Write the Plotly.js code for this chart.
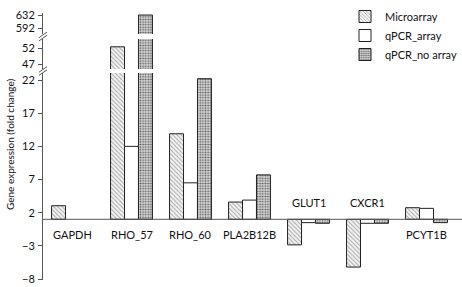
<!DOCTYPE html>
<html>
<head>
<meta charset="utf-8">
<script src="https://cdn.plot.ly/plotly-3.0.1.min.js"></script>
<style>html,body{margin:0;padding:0;background:#fff}#chart{width:462px;height:287px}</style>
</head>
<body>
<div id="chart"></div>
<script>
// ---- data ----
var categories = ['GAPDH','RHO_57','RHO_60','PLA2B12B','GLUT1','CXCR1','PCYT1B'];
var microarray = [3.05, 52.5, 13.9, 3.6, -2.85, -6.2, 2.75];
var qpcrArray = [null, 12, 6.5, 3.9, 0.5, 0.4, 2.65];
var qpcrNoArray = [null, 632, 22.2, 7.7, 0.4, 0.4, 0.5];
var seriesNames = ['Microarray', 'qPCR_array', 'qPCR_no array'];
var BASE = 1;
var ticksLow = [-8, -3, 2, 7, 12, 17, 22];
var ticksMid = [47, 52];
var ticksTop = [592, 632];

// ---- layout helpers (pixel -> paper, margins are zero) ----
var W = 462, H = 287;
function px(x){ return x / W; }
function py(y){ return (H - y) / H; }

var font = 'Lato, Open Sans, sans-serif';
var styles = [
  {color:'#f6f6f6', line:{color:'#222', width:1}, pattern:{shape:'\\', fgcolor:'#a8a8a8', bgcolor:'#f6f6f6', size:3, solidity:0.35}},
  {color:'#ffffff', line:{color:'#222', width:1}},
  {color:'#c8c8c8', line:{color:'#222', width:1}, pattern:{shape:'.', fgcolor:'#5a5a5a', bgcolor:'#dcdcdc', size:2.6, solidity:0.4}}
];
var series = [microarray, qpcrArray, qpcrNoArray];
var axes = ['y', 'y2', 'y3'];
var traces = [];
axes.forEach(function(ax, ai){
  series.forEach(function(vals, si){
    traces.push({
      type:'bar', x:categories,
      y: vals.map(function(v){ return v === null ? null : v - BASE; }),
      base: BASE, name: seriesNames[si], yaxis: ax, xaxis:'x',
      marker: styles[si], showlegend: ai === 0, legendgroup: 's' + si,
      hoverinfo:'skip'
    });
  });
});

var annotations = categories.map(function(c, i){
  var above = microarray[i] < BASE;
  return {x:c, y:BASE, xref:'x', yref:'y', text:c, showarrow:false,
    yshift: above ? 17 : -15, font:{family:font, size:11, color:'#111'}};
});
annotations.push({xref:'paper', yref:'paper', x:px(10), y:py(145), xanchor:'center', yanchor:'middle',
  text:'Gene expression (fold change)', textangle:-90, showarrow:false, font:{family:font, size:10, color:'#111'}});

var shapes = [
  {type:'line', xref:'paper', yref:'y', x0:px(43), x1:1, y0:BASE, y1:BASE, line:{color:'#555', width:1}}
];
[36.5, 71].forEach(function(yc){
  shapes.push({type:'rect', xref:'paper', yref:'paper', x0:px(40), x1:px(46), y0:py(yc+1.2), y1:py(yc-1.2), fillcolor:'#fff', line:{width:0}});
  [-1.6, 1.6].forEach(function(o){
    shapes.push({type:'line', xref:'paper', yref:'paper', x0:px(39), x1:px(47), y0:py(yc + 2.8 + o), y1:py(yc - 2.8 + o),
      line:{color:'#555', width:1}});
  });
});

function yax(range, dom, ticks){
  return {domain:dom, range:range, tickvals:ticks, ticktext:ticks.map(function(t){return t<0? '\u2212'+(-t) : String(t);}),
    showline:true, linecolor:'#555', linewidth:1, ticks:'outside', ticklen:4, tickcolor:'#555',
    showgrid:false, zeroline:false, anchor:'x', fixedrange:true, ticklabelstandoff:1,
    tickfont:{family:font, size:11, color:'#111'}};
}

var layout = {
  width:W, height:H, margin:{l:0, r:0, t:0, b:0, autoexpand:false},
  paper_bgcolor:'#fff', plot_bgcolor:'rgba(0,0,0,0)',
  barmode:'group', bargap:0.29, bargroupgap:0,
  xaxis:{domain:[px(43), px(456)], range:[-0.5, 6.5], showticklabels:false, showline:false, showgrid:false, zeroline:false, ticks:'', fixedrange:true},
  yaxis: yax([-8.15, 23.06], [py(280), py(73)], ticksLow),
  yaxis2: yax([45.4, 55], [py(69), py(39)], ticksMid),
  yaxis3: yax([575, 638], [py(34), py(13)], ticksTop),
  showlegend:true,
  legend:{x:1, y:py(2), xanchor:'right', yanchor:'top', bgcolor:'rgba(255,255,255,0)',
    font:{family:font, size:11, color:'#111'}, tracegroupgap:0, itemwidth:30},
  annotations:annotations, shapes:shapes
};
Plotly.newPlot('chart', traces, layout, {displayModeBar:false, staticPlot:true});
</script>
</body>
</html>
